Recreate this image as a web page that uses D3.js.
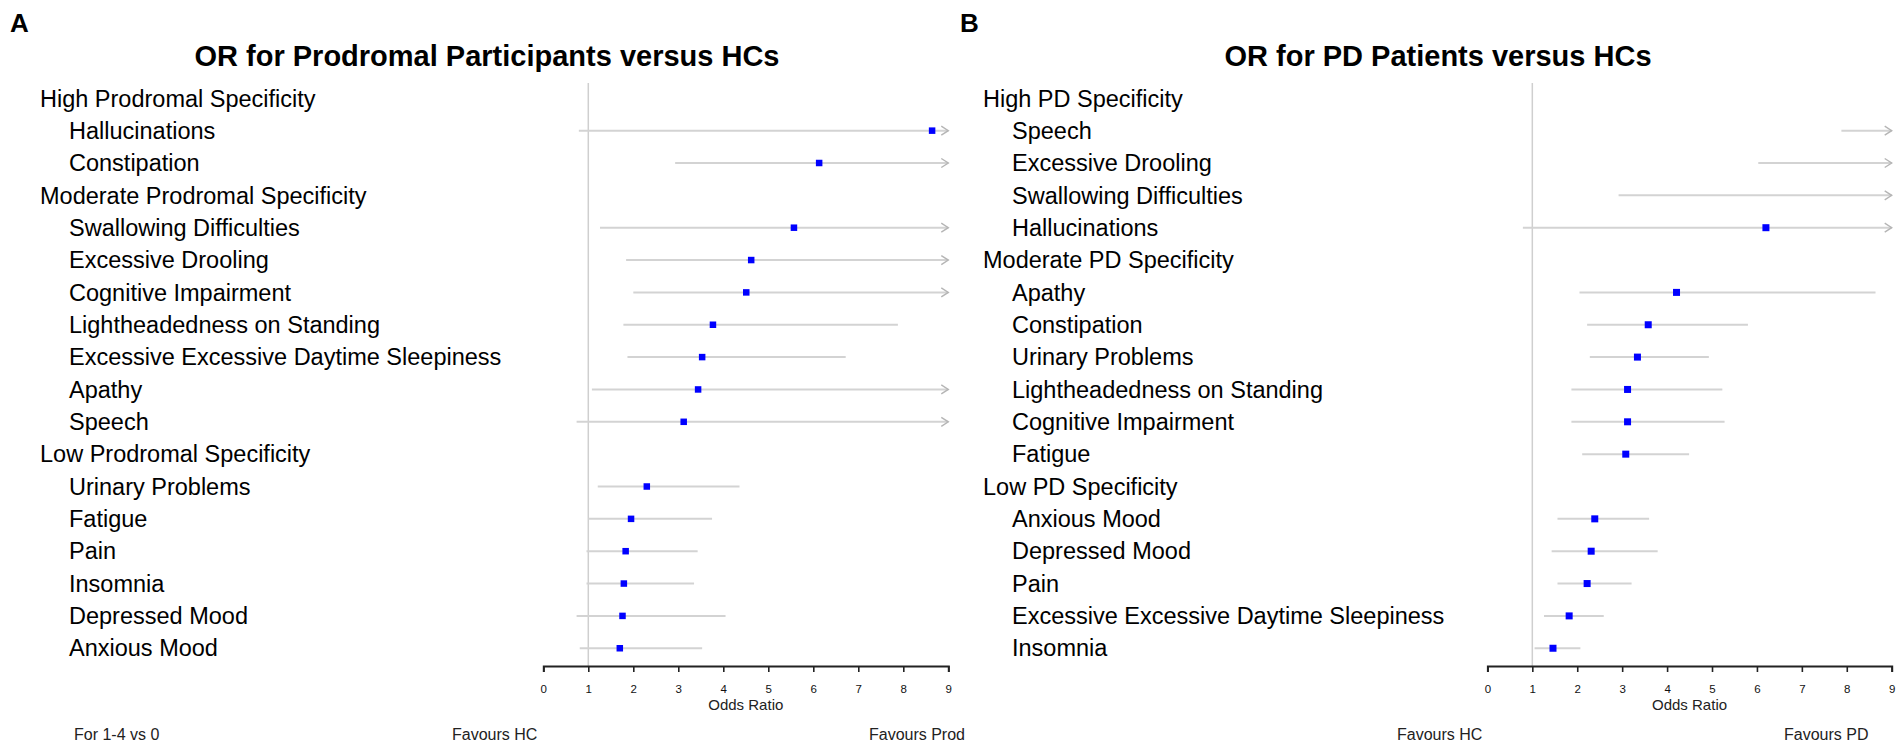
<!DOCTYPE html>
<html>
<head>
<meta charset="utf-8">
<script src="https://cdn.jsdelivr.net/npm/d3@7"></script>
<style>
  body { margin: 0; background: #fff; }
  text { font-family: "Liberation Sans", Arial, sans-serif; }
</style>
</head>
<body>
<div id="chart"></div>
<script>
// Panel A: prodromal participants vs HCs
var labelsA = [
  "High Prodromal Specificity", "Hallucinations", "Constipation",
  "Moderate Prodromal Specificity", "Swallowing Difficulties", "Excessive Drooling",
  "Cognitive Impairment", "Lightheadedness on Standing",
  "Excessive Excessive Daytime Sleepiness", "Apathy", "Speech",
  "Low Prodromal Specificity", "Urinary Problems", "Fatigue", "Pain",
  "Insomnia", "Depressed Mood", "Anxious Mood"
];
var headersA = ["High Prodromal Specificity", "Moderate Prodromal Specificity", "Low Prodromal Specificity"];
// null upper = CI runs past 9 (arrow)
var oddsA  = [null, 8.64, 6.13, null, 5.57, 4.62, 4.51, 3.77, 3.53, 3.44, 3.12, null, 2.30, 1.95, 1.83, 1.79, 1.76, 1.70];
var lowerA = [null, 0.79, 2.93, null, 1.26, 1.84, 2.00, 1.78, 1.87, 1.08, 0.74, null, 1.21, 1.00, 0.96, 0.96, 0.74, 0.81];
var upperA = [null, null, null, null, null, null, null, 7.88, 6.72, null, null, null, 4.36, 3.75, 3.43, 3.35, 4.05, 3.53];

// Panel B: PD patients vs HCs
var labelsB = [
  "High PD Specificity", "Speech", "Excessive Drooling", "Swallowing Difficulties",
  "Hallucinations", "Moderate PD Specificity", "Apathy", "Constipation",
  "Urinary Problems", "Lightheadedness on Standing", "Cognitive Impairment", "Fatigue",
  "Low PD Specificity", "Anxious Mood", "Depressed Mood", "Pain",
  "Excessive Excessive Daytime Sleepiness", "Insomnia"
];
var headersB = ["High PD Specificity", "Moderate PD Specificity", "Low PD Specificity"];
// null odds = estimate beyond the axis
var oddsB  = [null, null, null, null, 6.20, null, 4.21, 3.58, 3.34, 3.12, 3.12, 3.08, null, 2.39, 2.31, 2.22, 1.82, 1.46];
var lowerB = [null, 7.88, 6.03, 2.92, 0.79, null, 2.05, 2.22, 2.28, 1.87, 1.87, 2.11, null, 1.56, 1.43, 1.56, 1.26, 1.05];
var upperB = [null, null, null, null, null, null, 8.64, 5.80, 4.93, 5.23, 5.28, 4.49, null, 3.60, 3.79, 3.21, 2.59, 2.07];

var tickValues = [0, 1, 2, 3, 4, 5, 6, 7, 8, 9];

var svg = d3
  .select("#chart")
  .append("svg")
  .attr("width", 1901)
  .attr("height", 746);

var axisY = 666;
var rowTop = 98.3;
var rowStep = 32.35;

function drawPanel(p) {
  var x = d3.scaleLinear().domain([0, 9]).range([p.x0, p.x9]);
  var y = d3.scaleLinear().domain([0, p.labels.length - 1])
    .range([rowTop, rowTop + (p.labels.length - 1) * rowStep]);
  var g = svg.append("g");

  // panel letter and title
  g.append("text")
    .attr("x", p.letterX)
    .attr("y", 32)
    .attr("font-size", "26px")
    .attr("font-weight", "bold")
    .text(p.letter);

  g.append("text")
    .attr("x", p.titleX)
    .attr("y", 56)
    .attr("dy", "0.35em")
    .attr("text-anchor", "middle")
    .attr("font-size", "29px")
    .attr("font-weight", "bold")
    .text(p.title);

  // row labels
  g.selectAll(".lab")
    .data(p.labels)
    .enter()
    .append("text")
    .attr("x", function (d) { return p.headers.indexOf(d) >= 0 ? p.headX : p.itemX; })
    .attr("y", function (d, i) { return y(i); })
    .attr("dy", "0.35em")
    .attr("font-size", "23.5px")
    .attr("fill", "#000")
    .text(function (d) { return d; });

  // reference line at OR = 1
  g.append("line")
    .attr("x1", x(1)).attr("x2", x(1))
    .attr("y1", 83).attr("y2", axisY)
    .attr("stroke", "#cfcfcf")
    .attr("stroke-width", 1.5);

  var rows = p.labels.map(function (d, i) {
    return { i: i, odds: p.odds[i], lo: p.lower[i], hi: p.upper[i] };
  }).filter(function (d) { return d.lo !== null; });

  // confidence intervals
  g.selectAll(".ci")
    .data(rows)
    .enter()
    .append("line")
    .attr("x1", function (d) { return x(d.lo); })
    .attr("x2", function (d) { return d.hi === null ? x(9) : x(d.hi); })
    .attr("y1", function (d) { return y(d.i); })
    .attr("y2", function (d) { return y(d.i); })
    .attr("stroke", "#d3d3d3")
    .attr("stroke-width", 2);

  // arrows where CI runs past the axis
  g.selectAll(".arrow")
    .data(rows.filter(function (d) { return d.hi === null; }))
    .enter()
    .append("path")
    .attr("d", function (d) {
      var ax = x(9), ay = y(d.i);
      return "M" + (ax - 7) + "," + (ay - 4.5) + "L" + ax + "," + ay + "L" + (ax - 7) + "," + (ay + 4.5);
    })
    .attr("fill", "none")
    .attr("stroke", "#b5b5b5")
    .attr("stroke-width", 1.4);

  // point estimates
  g.selectAll(".box")
    .data(rows.filter(function (d) { return d.odds !== null; }))
    .enter()
    .append("rect")
    .attr("x", function (d) { return x(d.odds) - p.box / 2; })
    .attr("y", function (d) { return y(d.i) - p.box / 2; })
    .attr("width", p.box)
    .attr("height", p.box)
    .attr("fill", "#0000ff");

  // x axis
  var axis = g.append("g")
    .attr("transform", "translate(0," + axisY + ")")
    .call(d3.axisBottom(x).tickValues(tickValues).tickSize(6).tickPadding(13));
  axis.select(".domain").attr("stroke", "#222").attr("stroke-width", 2);
  axis.selectAll(".tick line").attr("stroke", "#222").attr("stroke-width", 1.6);
  axis.selectAll(".tick text")
    .attr("font-family", "Liberation Sans, Arial, sans-serif")
    .attr("font-size", "11.5px")
    .attr("fill", "#111");

  g.append("text")
    .attr("x", x(4.5))
    .attr("y", 705)
    .attr("dy", "0.35em")
    .attr("text-anchor", "middle")
    .attr("font-size", "15px")
    .attr("fill", "#222")
    .text("Odds Ratio");

  // bottom notes
  p.notes.forEach(function (n) {
    g.append("text")
      .attr("x", n.x)
      .attr("y", 734)
      .attr("dy", "0.35em")
      .attr("text-anchor", n.anchor)
      .attr("font-size", "16px")
      .attr("fill", "#222")
      .text(n.text);
  });
}

drawPanel({
  letter: "A", letterX: 10,
  title: "OR for Prodromal Participants versus HCs", titleX: 487,
  x0: 543.3, x9: 948.3, headX: 40, itemX: 69, box: 6.5,
  labels: labelsA, headers: headersA, odds: oddsA, lower: lowerA, upper: upperA,
  notes: [
    { text: "For 1-4 vs 0", x: 74, anchor: "start" },
    { text: "Favours HC", x: 452, anchor: "start" },
    { text: "Favours Prod", x: 965, anchor: "end" }
  ]
});

drawPanel({
  letter: "B", letterX: 960,
  title: "OR for PD Patients versus HCs", titleX: 1438,
  x0: 1487.4, x9: 1891.7, headX: 983, itemX: 1012, box: 7,
  labels: labelsB, headers: headersB, odds: oddsB, lower: lowerB, upper: upperB,
  notes: [
    { text: "Favours HC", x: 1397, anchor: "start" },
    { text: "Favours PD", x: 1784, anchor: "start" }
  ]
});
</script>
</body>
</html>
